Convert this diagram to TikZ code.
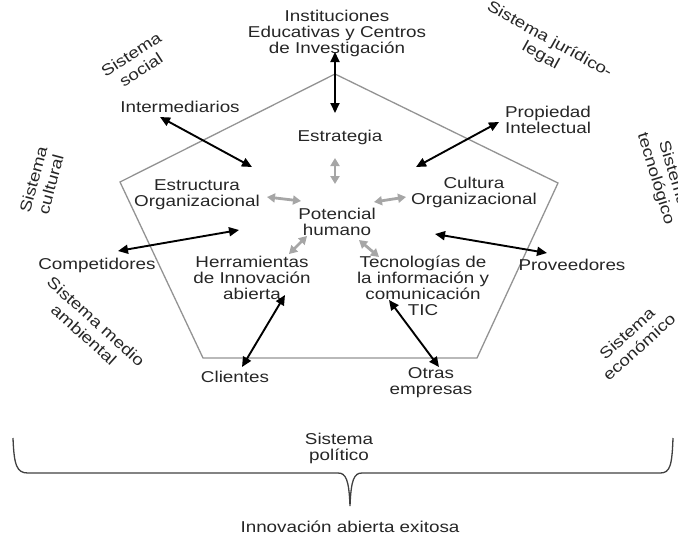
\documentclass[tikz,border=0pt]{standalone}
\usepackage{fontspec}
\setmainfont[FakeStretch=1.2]{Liberation Sans}
\usetikzlibrary{arrows.meta}
\begin{document}
\begin{tikzpicture}[x=1pt,y=-1pt,
  lbl/.style={font=\fontsize{15.7}{16}\selectfont, align=center, inner sep=0pt, text=black!85},
  rlbl/.style={lbl, font=\fontsize{15.7}{18}\selectfont},
  blk/.style={line width=1.9pt, {Triangle[length=10pt,width=9pt]}-{Triangle[length=10pt,width=9pt]}},
  gry/.style={draw=gray!70, line width=2.8pt, {Triangle[length=8pt,width=9pt]}-{Triangle[length=8pt,width=9pt]}},
  pent/.style={draw=gray!85, line width=1.3pt},
  brace/.style={draw=black!75, line width=1.3pt}]
\useasboundingbox (0,0) rectangle (678,539);
% pentagon
\coordinate (pT) at (335,74);
\coordinate (pR) at (558,183);
\coordinate (pBR) at (477,358);
\coordinate (pBL) at (203,358);
\coordinate (pL) at (120,182);
\draw[pent] (pT) -- (pR) -- (pBR) -- (pBL) -- (pL) -- cycle;
% systems
\node[lbl] (inst) at (337,33) {Instituciones\\Educativas y Centros\\de Investigación};
\node[rlbl, rotate=33] (ssoc) at (136,62) {Sistema\\social};
\node[rlbl, rotate=-29] (sjur) at (545,48) {Sistema jurídico-\\legal};
\node[rlbl, rotate=75] (scul) at (42,182) {Sistema\\cultural};
\node[rlbl, rotate=-73] (stec) at (664,176) {Sistema\\tecnológico};
\node[rlbl, rotate=-42] (smed) at (90,328) {Sistema medio\\ambiental};
\node[rlbl, rotate=42] (seco) at (633,340) {Sistema\\económico};
\node[lbl] (spol) at (339,448) {Sistema\\político};
\node[lbl] (innov) at (350,527) {Innovación abierta exitosa};
% inner elements
\node[lbl] (estr) at (340,137) {Estrategia};
\node[lbl] (eorg) at (197,195) {Estructura\\Organizacional};
\node[lbl] (pot) at (337,222) {Potencial\\humano};
\node[lbl] (corg) at (474,192) {Cultura\\Organizacional};
\node[lbl] (herr) at (252,278) {Herramientas\\de Innovación\\abierta};
\node[lbl] (tic) at (423,286) {Tecnologías de\\la información y\\comunicación\\TIC};
% outer actors
\node[lbl] (inter) at (180,107) {Intermediarios};
\node[lbl] (prop) at (548,120) {Propiedad\\Intelectual};
\node[lbl] (comp) at (97,265) {Competidores};
\node[lbl] (prov) at (572,265) {Proveedores};
\node[lbl] (cli) at (235,377) {Clientes};
\node[lbl] (otr) at (431,383) {Otras\\empresas};
% black arrow ends
\coordinate (instA) at (335,52);   \coordinate (instB) at (335,113);
\coordinate (interA) at (160,117); \coordinate (interB) at (252,167);
\coordinate (propA) at (499,122);  \coordinate (propB) at (416,167);
\coordinate (compA) at (118,251);  \coordinate (compB) at (239,230);
\coordinate (provA) at (435,234);  \coordinate (provB) at (547,253);
\coordinate (cliA) at (285,295);   \coordinate (cliB) at (242,367);
\coordinate (otrA) at (389,300);   \coordinate (otrB) at (439,367);
\draw[blk] (instA) -- (instB);
\draw[blk] (interA) -- (interB);
\draw[blk] (propA) -- (propB);
\draw[blk] (compA) -- (compB);
\draw[blk] (provA) -- (provB);
\draw[blk] (cliA) -- (cliB);
\draw[blk] (otrA) -- (otrB);
% gray arrow ends
\coordinate (gEA) at (335,158); \coordinate (gEB) at (335,184);
\coordinate (gOA) at (267,197); \coordinate (gOB) at (301,201);
\coordinate (gCA) at (374,202); \coordinate (gCB) at (406,197);
\coordinate (gHA) at (289,254); \coordinate (gHB) at (307,236);
\coordinate (gTA) at (359,240); \coordinate (gTB) at (379,257);
\draw[gry] (gEA) -- (gEB);
\draw[gry] (gOA) -- (gOB);
\draw[gry] (gCA) -- (gCB);
\draw[gry] (gHA) -- (gHB);
\draw[gry] (gTA) -- (gTB);
% brace
\coordinate (bL) at (13,438);
\coordinate (bTip) at (350,506);
\coordinate (bR) at (673,438);
\draw[brace] (bL) .. controls (14,466) and (17,473) .. (28,473) -- (338,473)
  .. controls (346,473) and (349,480) .. (bTip)
  .. controls (351,480) and (354,473) .. (362,473) -- (660,473)
  .. controls (670,473) and (672,466) .. (bR);
\end{tikzpicture}
\end{document}
